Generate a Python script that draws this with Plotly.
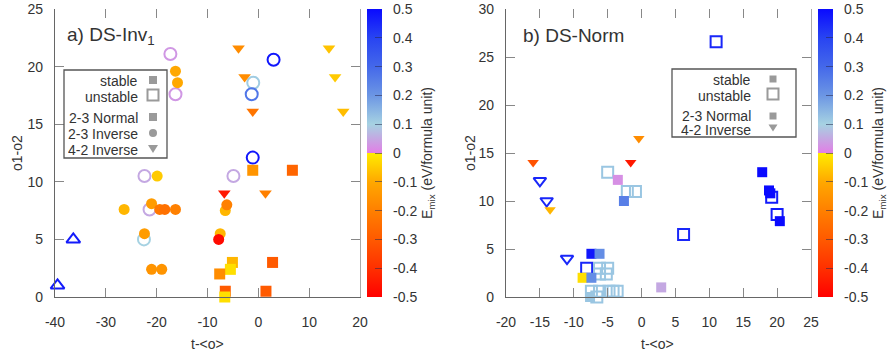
import plotly.graph_objects as go

# ---------------- data ----------------
# panel a) DS-Inv1 ; kind: N=2-3 Normal, C=2-3 Inverse, T=4-2 Inverse, U=other (open up-triangle)
inv_x = [-5.7, -17.3, -16.3, -15.9, -16.3, -3.9, -2.7, -1.0, -1.3, -1.1, 3.0, -1.1, -1.1, 6.7,
         -22.4, -19.9, 12.2, 13.9, 15.1, 16.7, -4.9, -26.4, -21.0, -21.4, -19.4, -18.4, -16.3,
         -22.4, -22.5, -36.4, -39.5, -21.0, -19.0, -6.7, 1.4, -6.5, -6.2, -7.5, -7.8, -5.1,
         -5.5, -7.6, -6.5, -6.6, 2.8, 1.5]
inv_y = [25.2, 21.1, 19.6, 18.6, 17.6, 21.6, 19.1, 18.6, 17.6, 16.1, 20.6, 12.1, 11.0, 11.0,
         10.5, 10.5, 25.2, 21.6, 19.1, 16.1, 10.5, 7.6, 8.1, 7.6, 7.6, 7.6, 7.6,
         5.5, 5.0, 5.0, 1.0, 2.4, 2.4, 9.0, 9.0, 7.5, 8.0, 5.5, 5.0, 3.0,
         2.4, 2.0, 0.5, 0.0, 3.0, 0.5]
inv_e = [0.03, 0.03, -0.1, -0.1, 0.03, -0.17, -0.17, 0.11, 0.27, -0.23, 0.48, 0.48, -0.15, -0.27,
         0.05, -0.05, -0.08, -0.06, -0.05, -0.07, 0.05, -0.08, -0.13, 0.05, -0.22, -0.24, -0.2,
         -0.13, 0.1, 0.47, 0.47, -0.15, -0.15, -0.45, -0.2, -0.08, -0.2, -0.08, -0.48, -0.08,
         -0.02, -0.17, -0.3, -0.02, -0.3, -0.3]
inv_kind = ["T", "C", "C", "C", "C", "T", "T", "C", "C", "T", "C", "C", "N", "N",
            "C", "C", "T", "T", "T", "T", "C", "C", "C", "C", "C", "C", "C",
            "C", "C", "U", "U", "C", "C", "T", "T", "C", "C", "C", "C", "N",
            "N", "N", "N", "N", "N", "N"]
inv_stable = [0, 0, 1, 1, 0, 1, 1, 0, 0, 1, 0, 0, 1, 1,
              0, 1, 1, 1, 1, 1, 0, 1, 1, 0, 1, 1, 1,
              1, 0, 0, 0, 1, 1, 1, 1, 1, 1, 1, 1, 1,
              1, 1, 1, 1, 1, 1]

# panel b) DS-Norm
nrm_x = [-16.0, -1.6, -0.4, -5.0, -3.5, 11.0, 17.8, -15.0, -14.0, -13.5, -2.1, -0.9, -2.6, 6.2,
         -11.0, -7.4, -6.2, -8.1, -8.7, -7.4, -6.2, -5.0, -6.2, -5.2, -7.4, -6.2, -7.6, -6.6,
         -4.8, -4.2, -3.6, 2.9, 18.8, 19.0, 19.2, 20.0, 20.4]
nrm_y = [14.0, 14.0, 16.5, 13.0, 12.2, 26.6, 13.0, 12.1, 10.0, 9.1, 11.0, 11.0, 10.0, 6.5,
         4.0, 4.5, 4.5, 3.0, 2.0, 2.0, 3.0, 3.0, 2.4, 2.4, 0.6, 0.6, 0.0, 0.0,
         0.6, 0.6, 0.6, 1.0, 11.1, 10.8, 10.4, 8.6, 7.9]
nrm_e = [-0.32, -0.45, -0.17, 0.12, 0.02, 0.45, 0.5, 0.45, 0.45, -0.08, 0.12, 0.12, 0.25, 0.45,
         0.45, 0.48, 0.22, 0.45, -0.02, 0.22, 0.12, 0.12, 0.12, 0.12, 0.12, 0.12, 0.12, 0.12,
         0.12, 0.12, 0.12, 0.05, 0.5, 0.5, 0.47, 0.47, 0.5]
nrm_kind = ["T", "T", "T", "N", "N", "N", "N", "T", "T", "T", "N", "N", "N", "N",
            "T", "N", "N", "N", "N", "N", "N", "N", "N", "N", "N", "N", "N", "N",
            "N", "N", "N", "N", "N", "N", "N", "N", "N"]
nrm_stable = [1, 1, 1, 0, 1, 0, 1, 0, 0, 1, 0, 0, 1, 0,
              0, 1, 1, 0, 1, 1, 0, 0, 0, 0, 0, 0, 1, 0,
              0, 0, 0, 1, 1, 1, 0, 0, 1]

x_ticks_a = [-40, -30, -20, -10, 0, 10, 20]
y_ticks_a = [0, 5, 10, 15, 20, 25]
x_ticks_b = [-20, -15, -10, -5, 0, 5, 10, 15, 20, 25]
y_ticks_b = [0, 5, 10, 15, 20, 25, 30]
cb_ticks = [-0.5, -0.4, -0.3, -0.2, -0.1, 0, 0.1, 0.2, 0.3, 0.4, 0.5]

# ---------------- styling ----------------
W, H = 888, 358
TOP, BOT = 9, 297
FONT = "Liberation Sans, Arial, sans-serif"
TXT = "#333333"

def PX(x):
    return x / W

def PY(y):
    return (BOT - y) / (BOT - TOP)

cscale = [
    [0.0, "#ff0000"], [0.1, "#ff3000"], [0.2, "#ff5a00"], [0.3, "#ff8000"],
    [0.4, "#ffa800"], [0.499, "#ffec00"], [0.5, "#e27ee6"], [0.55, "#c4a8e2"],
    [0.6, "#a6d2e2"], [0.7, "#6c96e4"], [0.8, "#4468ea"], [0.9, "#2844f2"], [1.0, "#0a0aff"],
]

sym = {("N", 1): "square", ("N", 0): "square-open",
       ("C", 1): "circle", ("C", 0): "circle-open",
       ("T", 1): "triangle-down", ("T", 0): "triangle-down-open",
       ("U", 1): "triangle-up", ("U", 0): "triangle-up-open"}

fig = go.Figure()

def add_panel(xs, ys, es, kinds, stables, xa, ya, cax, size):
    groups = {}
    for i in range(len(xs)):
        groups.setdefault((kinds[i], stables[i]), []).append(i)
    order = [k for k in groups if k[1] == 0] + [k for k in groups if k[1] == 1]
    for key in order:
        idx = groups[key]
        fig.add_trace(go.Scatter(
            x=[xs[i] for i in idx], y=[ys[i] for i in idx], mode="markers",
            xaxis=xa, yaxis=ya, showlegend=False, cliponaxis=False,
            marker=dict(symbol=sym[key], size=size + (1 if key[1] == 0 else 0),
                        color=[es[i] for i in idx], coloraxis=cax,
                        line=dict(width=2) if key[1] == 0 else dict(width=0)),
        ))

add_panel(inv_x, inv_y, inv_e, inv_kind, inv_stable, "x", "y", "coloraxis", 11)
add_panel(nrm_x, nrm_y, nrm_e, nrm_kind, nrm_stable, "x2", "y2", "coloraxis2", 10)

# dummy traces for mirrored tick axes
fig.add_trace(go.Scatter(x=[None], y=[None], xaxis="x3", yaxis="y3", showlegend=False))
fig.add_trace(go.Scatter(x=[None], y=[None], xaxis="x4", yaxis="y4", showlegend=False))

dA = [55 / W, 360 / W]
dB = [506 / W, 811 / W]

def xax(dom, rng, ticks, anchor, **kw):
    d = dict(domain=dom, range=rng, tickvals=ticks, ticktext=[str(t) for t in ticks],
             ticks="inside", ticklen=9, tickcolor="#888888", tickwidth=1, automargin=False,
             showline=True, linecolor="#666666", linewidth=1.2, showgrid=False, zeroline=False,
             tickfont=dict(family=FONT, size=14, color=TXT), anchor=anchor, ticklabelstandoff=12)
    d.update(kw)
    return d

def yax(rng, ticks, anchor, **kw):
    d = dict(domain=[0, 1], range=rng, tickvals=ticks, ticktext=[str(t) for t in ticks],
             ticks="inside", ticklen=9, tickcolor="#888888", tickwidth=1, automargin=False,
             showline=True, linecolor="#666666", linewidth=1.2, showgrid=False, zeroline=False,
             tickfont=dict(family=FONT, size=14, color=TXT), anchor=anchor, ticklabelstandoff=8)
    d.update(kw)
    return d

cb_common = dict(
    cmin=-0.5, cmax=0.5, colorscale=cscale,
)

NB = "\u00a0\u00a0"

def cbar(xp):
    return dict(
        x=xp, xanchor="left", xref="paper", y=0.5, yanchor="middle", len=1, lenmode="fraction",
        thickness=15, xpad=0, ypad=0, outlinewidth=0,
        tickvals=cb_ticks, ticktext=[NB + ("%g" % t) for t in cb_ticks],
        ticks="inside", ticklen=7, tickcolor="rgba(40,40,80,0.55)", tickwidth=1,
        tickfont=dict(family=FONT, size=14, color=TXT),
        title=dict(text="E<sub>mix</sub> (eV/formula unit)", side="right",
                   font=dict(family=FONT, size=14, color=TXT)),
    )

fig.update_layout(
    template="none",
    width=W, height=H, margin=dict(l=0, r=0, t=TOP, b=H - BOT, autoexpand=False),
    paper_bgcolor="white", plot_bgcolor="white",
    font=dict(family=FONT, color=TXT),
    xaxis=xax(dA, [-40, 20], x_ticks_a, "y"),
    yaxis=yax([0, 25], y_ticks_a, "x"),
    xaxis2=xax(dB, [-20, 25], x_ticks_b, "y2"),
    yaxis2=yax([0, 30], y_ticks_b, "x2"),
    xaxis3=xax(dA, [-40, 20], x_ticks_a, "y3", overlaying="x", side="top",
               showline=False, showticklabels=False),
    yaxis3=yax([0, 25], y_ticks_a, "x3", overlaying="y", side="right",
               showticklabels=False, linecolor="#aaaaaa"),
    xaxis4=xax(dB, [-20, 25], x_ticks_b, "y4", overlaying="x2", side="top",
               showline=False, showticklabels=False),
    yaxis4=yax([0, 30], y_ticks_b, "x4", overlaying="y2", side="right",
               showticklabels=False, linecolor="#aaaaaa"),
    coloraxis=dict(**cb_common, colorbar=cbar(367 / W)),
    coloraxis2=dict(**cb_common, colorbar=cbar(818 / W)),
)

ann = []
def text(x, y, s, size=14, anchor="center", angle=0, h=None):
    a = dict(x=PX(x), y=PY(y), xref="paper", yref="paper", text=s, showarrow=False,
             xanchor=anchor, yanchor="middle", textangle=angle, borderpad=0,
             font=dict(family=FONT, size=size, color=TXT))
    if h is not None:
        a["height"] = h
    ann.append(a)

text(66, 36, "a) DS-Inv<sub>1</sub>", size=19, anchor="left")
text(522, 35, "b) DS-Norm", size=19, anchor="left")
text(207, 344, "t-&lt;o&gt;")
text(657, 344, "t-&lt;o&gt;")
text(17, 153, "o1-o2", angle=-90)
text(470, 153, "o1-o2", angle=-90)

shapes = []
GRAY = "#9a9a9a"

def box(x0, y0, x1, y1):
    shapes.append(dict(type="rect", xref="paper", yref="paper", x0=PX(x0), x1=PX(x1),
                       y0=PY(y1), y1=PY(y0), line=dict(color="#555555", width=1.3),
                       fillcolor="white", layer="above"))

def sq(cx, cy, s, filled):
    shapes.append(dict(type="rect", xref="paper", yref="paper",
                       x0=PX(cx - s / 2), x1=PX(cx + s / 2), y0=PY(cy + s / 2), y1=PY(cy - s / 2),
                       line=dict(color=GRAY, width=0 if filled else 2),
                       fillcolor=GRAY if filled else "rgba(0,0,0,0)", layer="above"))

def circ(cx, cy, s):
    shapes.append(dict(type="circle", xref="paper", yref="paper",
                       x0=PX(cx - s / 2), x1=PX(cx + s / 2), y0=PY(cy + s / 2), y1=PY(cy - s / 2),
                       line=dict(width=0), fillcolor=GRAY, layer="above"))

def tri(cx, cy, w, h):
    p = "M %f %f L %f %f L %f %f Z" % (PX(cx - w / 2), PY(cy - h / 2), PX(cx + w / 2), PY(cy - h / 2),
                                      PX(cx), PY(cy + h / 2))
    shapes.append(dict(type="path", xref="paper", yref="paper", path=p,
                       line=dict(width=0), fillcolor=GRAY, layer="above"))

# legend a
box(64, 70, 167, 158)
for s, yy in [("stable", 80), ("unstable", 96), ("2-3 Normal", 117), ("2-3 Inverse", 133), ("4-2 Inverse", 149)]:
    text(139, yy, s, anchor="right", h=13)
sq(153, 80, 8, True)
sq(153, 95, 11, False)
sq(153, 117, 8, True)
circ(153, 133, 8)
tri(153, 149, 10, 8)

# legend b
box(672, 69, 796, 137)
for s, yy in [("stable", 79), ("unstable", 95), ("2-3 Normal", 115), ("4-2 Inverse", 129)]:
    text(752, yy, s, size=14, anchor="right", h=11)
sq(773, 79, 7, True)
sq(773, 94, 11, False)
sq(773, 116, 7, True)
tri(773, 128, 9, 7)

fig.update_layout(annotations=ann, shapes=shapes)
fig.write_html("out.html")
